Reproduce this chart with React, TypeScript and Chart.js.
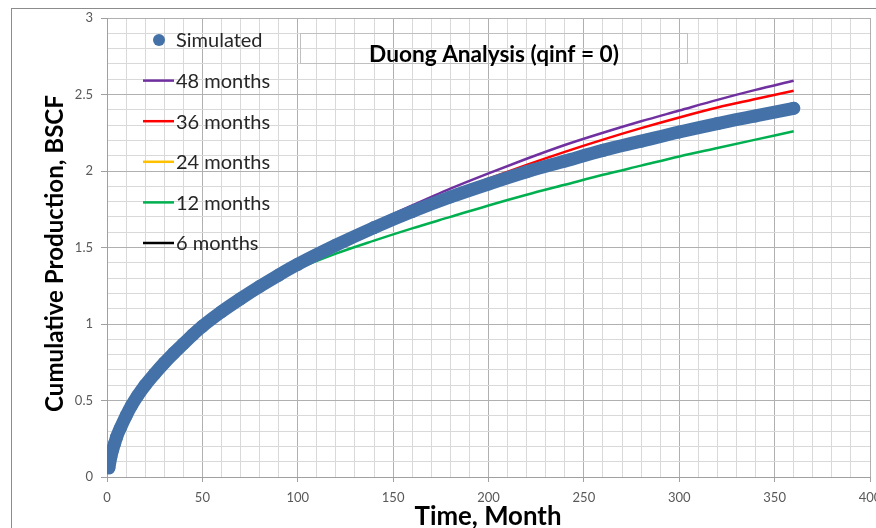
import React, { useEffect, useRef } from "react";
import { Chart, registerables } from "chart.js";

Chart.register(...registerables);

// ---- data ----
const months = [1, 2, 3, 4, 5, 7, 10, 13, 16, 20, 25, 30, 35, 40, 45, 50, 60, 70, 80, 90, 100, 120, 140, 160, 180, 200, 220, 240, 260, 280, 300, 320, 340, 360];
const simulated = [0.06, 0.13, 0.18, 0.22, 0.26, 0.32, 0.40, 0.47, 0.53, 0.60, 0.675, 0.745, 0.81, 0.87, 0.93, 0.985, 1.08, 1.165, 1.245, 1.32, 1.39, 1.515, 1.63, 1.735, 1.83, 1.915, 1.995, 2.065, 2.135, 2.195, 2.255, 2.31, 2.36, 2.41];
const fit48 = [0.06, 0.13, 0.18, 0.22, 0.26, 0.32, 0.40, 0.47, 0.53, 0.60, 0.675, 0.745, 0.81, 0.87, 0.93, 0.985, 1.08, 1.165, 1.245, 1.32, 1.40, 1.535, 1.66, 1.775, 1.885, 1.985, 2.08, 2.17, 2.25, 2.325, 2.395, 2.465, 2.53, 2.59];
const fit36 = [0.06, 0.13, 0.18, 0.22, 0.26, 0.32, 0.40, 0.47, 0.53, 0.60, 0.675, 0.745, 0.81, 0.87, 0.93, 0.985, 1.08, 1.165, 1.245, 1.32, 1.395, 1.525, 1.645, 1.755, 1.855, 1.95, 2.04, 2.125, 2.205, 2.28, 2.35, 2.415, 2.47, 2.525];
const fit24 = [0.06, 0.13, 0.18, 0.22, 0.26, 0.32, 0.40, 0.47, 0.53, 0.60, 0.675, 0.745, 0.81, 0.87, 0.93, 0.985, 1.08, 1.165, 1.245, 1.32, 1.39, 1.52, 1.635, 1.74, 1.835, 1.92, 2.0, 2.07, 2.14, 2.20, 2.26, 2.315, 2.365, 2.415];
const fit12 = [0.06, 0.13, 0.18, 0.22, 0.26, 0.32, 0.40, 0.47, 0.53, 0.60, 0.675, 0.745, 0.81, 0.87, 0.93, 0.985, 1.075, 1.155, 1.23, 1.295, 1.36, 1.46, 1.545, 1.625, 1.70, 1.775, 1.845, 1.91, 1.975, 2.035, 2.095, 2.15, 2.205, 2.26];
const fit6 = [0.06, 0.13, 0.18, 0.22, 0.26, 0.32, 0.40, 0.47, 0.53, 0.60, 0.675, 0.745, 0.81, 0.87, 0.93, 0.985, 1.08, 1.165, 1.245, 1.32, 1.385, 1.51, 1.625, 1.73, 1.825, 1.91, 1.99, 2.06, 2.13, 2.19, 2.25, 2.305, 2.355, 2.405];

const seriesLabels = ["Simulated", "48 months", "36 months", "24 months", "12 months", "6 months"];
const seriesColors = ["#4472A8", "#7030A0", "#FF0000", "#FFC000", "#00B050", "#000000"];
const chartTitle = "Duong Analysis (qinf = 0)";
const xTitle = "Time, Month";
const yTitle = "Cumulative Production, BSCF";

const FONT = "Lato, 'Open Sans', sans-serif";

const toXY = (vals: number[]) => months.map((m, i) => ({ x: m, y: vals[i] }));

const isMajorY = (v: number) => Math.abs(v * 2 - Math.round(v * 2)) < 1e-6;
const isMajorX = (v: number) => Math.abs(v / 50 - Math.round(v / 50)) < 1e-6;

function fitFont(ctx: CanvasRenderingContext2D, text: string, weight: string, target: number) {
  ctx.font = `${weight} 20px ${FONT}`;
  const w = ctx.measureText(text).width;
  const size = (20 * target) / w;
  ctx.font = `${weight} ${size.toFixed(2)}px ${FONT}`;
}

const decorPlugin = {
  id: "decor",
  beforeDraw(chart: any) {
    const { ctx } = chart;
    ctx.save();
    ctx.fillStyle = "#ffffff";
    ctx.fillRect(0, 0, chart.width, chart.height);
    ctx.strokeStyle = "#8c8c8c";
    ctx.lineWidth = 1;
    ctx.strokeRect(11.5, 8.5, 2000, 2000);
    ctx.restore();
  },
  afterDraw(chart: any) {
    const { ctx, chartArea } = chart;
    const L = chartArea.left;
    const T = chartArea.top;
    ctx.save();
    // title box
    ctx.strokeStyle = "#c0c0c0";
    ctx.lineWidth = 1;
    ctx.strokeRect(300.5, 33.5, 387, 30);
    ctx.fillStyle = "#000000";
    fitFont(ctx, chartTitle, "bold", 250);
    ctx.textAlign = "center";
    ctx.textBaseline = "middle";
    ctx.fillText(chartTitle, 494, 55);

    // legend
    ctx.font = `20px ${FONT}`;
    ctx.textAlign = "left";
    ctx.textBaseline = "middle";
    seriesLabels.forEach((lab, i) => {
      const y = T + 22 + i * 40.6;
      if (i === 0) {
        ctx.fillStyle = seriesColors[0];
        ctx.beginPath();
        ctx.arc(L + 52, y, 6, 0, Math.PI * 2);
        ctx.fill();
      } else {
        ctx.strokeStyle = seriesColors[i];
        ctx.lineWidth = 2.5;
        ctx.beginPath();
        ctx.moveTo(L + 36, y);
        ctx.lineTo(L + 67, y);
        ctx.stroke();
      }
      ctx.fillStyle = "#262626";
      ctx.fillText(lab, L + 69, y + 1);
    });

    // axis titles
    ctx.fillStyle = "#000000";
    ctx.textAlign = "center";
    ctx.textBaseline = "middle";
    fitFont(ctx, xTitle, "bold", 147);
    ctx.fillText(xTitle, 488, 517);
    fitFont(ctx, yTitle, "bold", 317);
    ctx.translate(55, 253.5);
    ctx.rotate(-Math.PI / 2);
    ctx.fillText(yTitle, 0, 0);
    ctx.restore();
  },
};

export default function App() {
  const ref = useRef<HTMLCanvasElement>(null);
  useEffect(() => {
    if (!ref.current) return;
    const lineDs = (i: number, vals: number[]) => ({
      label: seriesLabels[i],
      data: toXY(vals),
      borderColor: seriesColors[i],
      backgroundColor: seriesColors[i],
      borderWidth: 2.5,
      pointRadius: 0,
      showLine: true,
      cubicInterpolationMode: "monotone" as const,
    });
    const chart = new Chart(ref.current, {
      type: "scatter",
      data: {
        datasets: [
          {
            label: seriesLabels[0],
            data: toXY(simulated),
            borderColor: seriesColors[0],
            backgroundColor: seriesColors[0],
            borderWidth: 13,
            borderCapStyle: "round",
            borderJoinStyle: "round",
            pointRadius: 6.5,
            pointBorderWidth: 0,
            showLine: true,
            cubicInterpolationMode: "monotone",
          } as any,
          lineDs(1, fit48),
          lineDs(2, fit36),
          lineDs(3, fit24),
          lineDs(4, fit12),
          lineDs(5, fit6),
        ],
      },
      options: {
        responsive: false,
        animation: false,
        layout: { padding: { left: 0, top: 18, right: 30, bottom: 0 } },
        plugins: { legend: { display: false }, tooltip: { enabled: false }, title: { display: false } },
        scales: {
          x: {
            type: "linear",
            min: 0,
            max: 400,
            afterFit: (s: any) => {
              s.height = 68;
            },
            ticks: {
              stepSize: 10,
              autoSkip: false,
              maxTicksLimit: 1000,
              maxRotation: 0,
              padding: 8,
              color: "#595959",
              font: { family: FONT, size: 13 },
              callback: (v: any) => (isMajorX(Number(v)) ? String(Math.round(Number(v))) : ""),
            },
            grid: {
              color: (c: any) => (c.tick && isMajorX(c.tick.value) ? "#b0b0b0" : "#d9d9d9"),
              tickColor: (c: any) => (c.tick && isMajorX(c.tick.value) ? "#a0a0a0" : "rgba(0,0,0,0)"),
              tickLength: 5,
              lineWidth: 1,
            },
            border: { display: true, color: "#a0a0a0" },
          },
          y: {
            type: "linear",
            min: 0,
            max: 3,
            afterFit: (s: any) => {
              s.width = 107;
            },
            ticks: {
              stepSize: 0.1,
              autoSkip: false,
              maxTicksLimit: 1000,
              padding: 8,
              color: "#595959",
              font: { family: FONT, size: 13 },
              callback: (v: any) => (isMajorY(Number(v)) ? String(Math.round(Number(v) * 2) / 2) : ""),
            },
            grid: {
              color: (c: any) => (c.tick && isMajorY(c.tick.value) ? "#b0b0b0" : "#d9d9d9"),
              tickColor: (c: any) => (c.tick && isMajorY(c.tick.value) ? "#a0a0a0" : "rgba(0,0,0,0)"),
              tickLength: 6,
              lineWidth: 1,
            },
            border: { display: true, color: "#a0a0a0" },
          },
        },
      },
      plugins: [decorPlugin],
    });
    return () => chart.destroy();
  }, []);

  return (
    <div style={{ position: "fixed", left: 0, top: 0, width: 876, height: 528, overflow: "hidden", background: "#fff" }}>
      <canvas ref={ref} width={900} height={545} style={{ display: "block" }} />
    </div>
  );
}
